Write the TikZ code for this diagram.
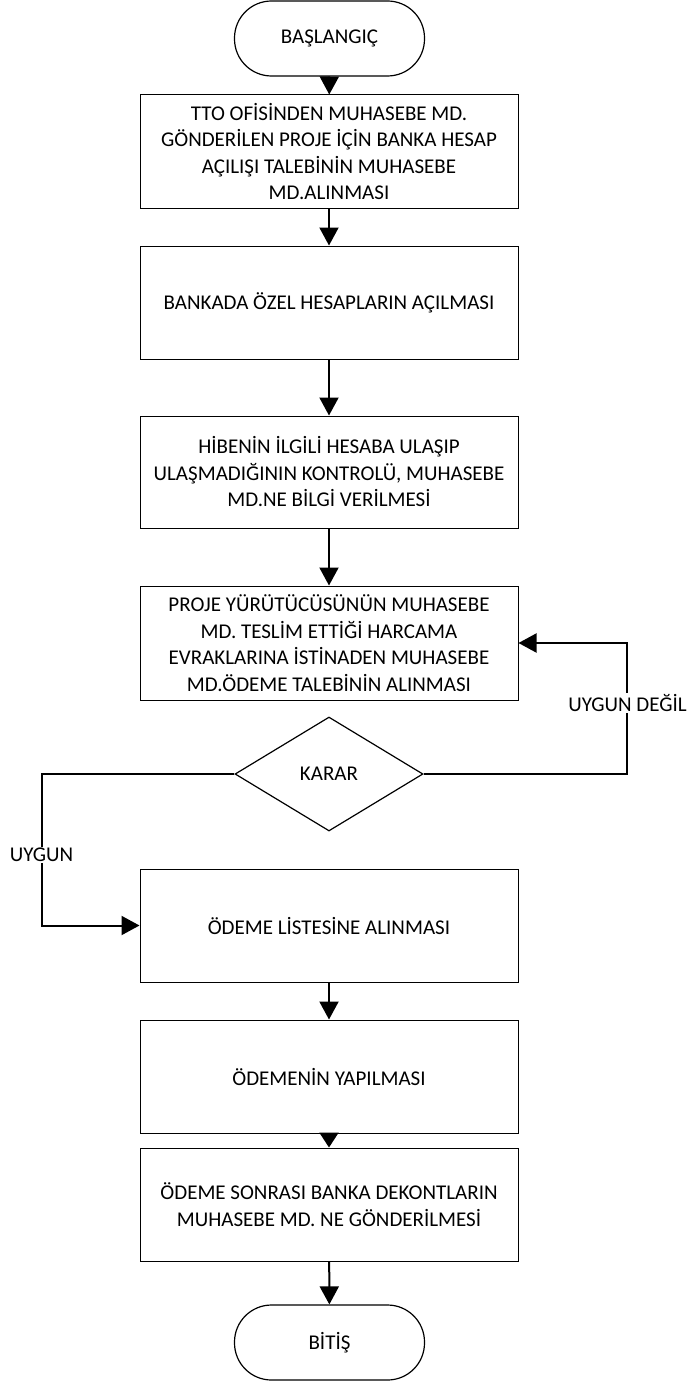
\documentclass[tikz,border=0pt]{standalone}
\usepackage{fontspec}
\setmainfont{Carlito}
\usetikzlibrary{arrows.meta,shapes.geometric}
\begin{document}
\begin{tikzpicture}[x=1pt,y=-1pt,
  every node/.style={font=\fontsize{21}{26.5}\selectfont, align=center, inner sep=0pt},
  procbox/.style={draw, line width=1pt, rectangle, minimum width=378pt, minimum height=113pt},
  termbox/.style={draw, line width=1.2pt, rectangle, rounded corners=37pt, minimum width=190pt, minimum height=75pt},
  decbox/.style={draw, line width=1.2pt, diamond, aspect=1.65, minimum width=188pt, minimum height=114pt},
  conn/.style={line width=2pt, -{Triangle[length=18pt,width=19pt]}},
  lbl/.style={fill=white, inner sep=1pt}
]
\useasboundingbox (0,0) rectangle (687,1383);
\node[termbox] (start) at (329.5,38.5) {BAŞLANGIÇ};
\node[procbox] (b1) at (329,151.5) {TTO OFİSİNDEN MUHASEBE MD.\\GÖNDERİLEN PROJE İÇİN BANKA HESAP\\AÇILIŞI TALEBİNİN MUHASEBE\\MD.ALINMASI};
\node[procbox] (b2) at (329,302.5) {BANKADA ÖZEL HESAPLARIN AÇILMASI};
\node[procbox, minimum height=112pt] (b3) at (329,472) {HİBENİN İLGİLİ HESABA ULAŞIP\\ULAŞMADIĞININ KONTROLÜ, MUHASEBE\\MD.NE BİLGİ VERİLMESİ};
\node[procbox, minimum height=114pt] (b4) at (329,643) {PROJE YÜRÜTÜCÜSÜNÜN MUHASEBE\\MD. TESLİM ETTİĞİ HARCAMA\\EVRAKLARINA İSTİNADEN MUHASEBE\\MD.ÖDEME TALEBİNİN ALINMASI};
\node[decbox] (dec) at (329,774) {KARAR};
\node[procbox] (b5) at (329,925.5) {ÖDEME LİSTESİNE ALINMASI};
\node[procbox] (b6) at (329,1076.5) {ÖDEMENİN YAPILMASI};
\node[procbox] (b7) at (329,1204.5) {ÖDEME SONRASI BANKA DEKONTLARIN\\MUHASEBE MD. NE GÖNDERİLMESİ};
\node[termbox] (end) at (329.5,1342.5) {BİTİŞ};

\coordinate (R) at (627,774);
\coordinate (L) at (42,925.5);

\draw[conn] (start) -- (b1);
\draw[conn] (b1) -- (b2);
\draw[conn] (b2) -- (b3);
\draw[conn] (b3) -- (b4);
\draw[conn] (b5) -- (b6);
\draw[conn, -{Triangle[length=15pt,width=19pt]}] (b6) -- (b7);
\draw[conn] (b7) -- (end);
\draw[conn] (dec.east) -- (R) |- (b4.east);
\draw[conn] (dec.west) -| (L) -- (b5.west);

\node[lbl] (ld) at (627.5,703) {UYGUN DEĞİL};
\node[lbl] (lu) at (41.5,855) {UYGUN};
\end{tikzpicture}
\end{document}
